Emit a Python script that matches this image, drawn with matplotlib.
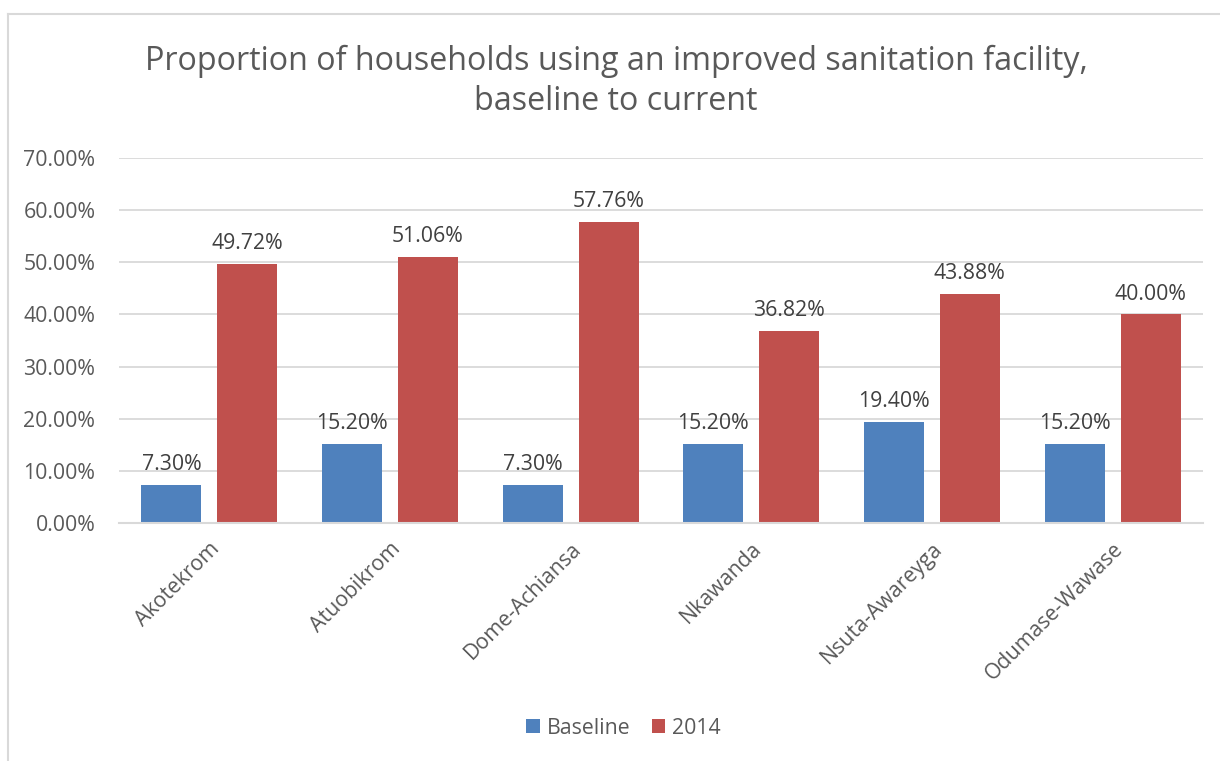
import matplotlib
matplotlib.use('Agg')
import matplotlib.pyplot as plt
from matplotlib.lines import Line2D
import numpy as np

# data
categories = ['Akotekrom', 'Atuobikrom', 'Dome-Achiansa', 'Nkawanda', 'Nsuta-Awareyga', 'Odumase-Wawase']
baseline = [7.30, 15.20, 7.30, 15.20, 19.40, 15.20]
year_2014 = [49.72, 51.06, 57.76, 36.82, 43.88, 40.00]
series_names = ['Baseline', '2014']

plt.rcParams['font.family'] = ['Open Sans', 'DejaVu Sans']
text_color = '#595959'
fs = 15.3

fig = plt.figure(figsize=(12.2, 7.61), dpi=100)
ax = fig.add_axes([0.0975, 0.3127, 0.8885, 0.4797])

x = np.arange(len(categories))
width = 0.332
offset = 0.21
b1 = ax.bar(x - offset, baseline, width, color='#4F81BD', label=series_names[0], zorder=3)
b2 = ax.bar(x + offset, year_2014, width, color='#C0504D', label=series_names[1], zorder=3)

for bars in (b1, b2):
    for rect in bars:
        h = rect.get_height()
        ax.annotate('%.2f%%' % h, (rect.get_x() + rect.get_width() / 2, h),
                    xytext=(0, 7), textcoords='offset points', ha='center', va='bottom',
                    fontsize=fs, color='#404040')

ax.set_xlim(-0.5, len(categories) - 0.5)
ax.set_ylim(0, 70)
ax.set_yticks(np.arange(0, 71, 10))
ax.set_yticklabels(['%.2f%%' % v for v in np.arange(0, 71, 10)], fontsize=fs, color=text_color)
ax.set_xticks(x)
ax.set_xticklabels(categories, rotation=45, ha='right', rotation_mode='anchor', fontsize=fs, color=text_color)
ax.tick_params(axis='y', length=0, pad=17)
ax.tick_params(axis='x', length=0, pad=11)

ax.grid(axis='y', color='#D9D9D9', linewidth=1.3, zorder=0)
for s in ['top', 'right', 'left']:
    ax.spines[s].set_visible(False)
ax.spines['bottom'].set_color('#D9D9D9')
ax.spines['bottom'].set_linewidth(1.5)
ax.spines['bottom'].set_zorder(4)

fig.text(0.505, 0.893, 'Proportion of households using an improved sanitation facility,\nbaseline to current',
         ha='center', va='center', fontsize=23.2, color=text_color, linespacing=1.25)

fig.legend(loc='center', bbox_to_anchor=(0.511, 0.043), ncol=2, frameon=False,
           fontsize=fs, labelcolor=text_color, handlelength=0.65, handleheight=0.65,
           handletextpad=0.3, columnspacing=1.0)

# chart frame (left and top edges visible)
fig.add_artist(Line2D([8 / 1220, 8 / 1220], [0, 1 - 14 / 761], transform=fig.transFigure, color='#D9D9D9', linewidth=1.5))
fig.add_artist(Line2D([8 / 1220, 1], [1 - 14 / 761, 1 - 14 / 761], transform=fig.transFigure, color='#D9D9D9', linewidth=1.5))

fig.savefig('out.png', dpi=100)
